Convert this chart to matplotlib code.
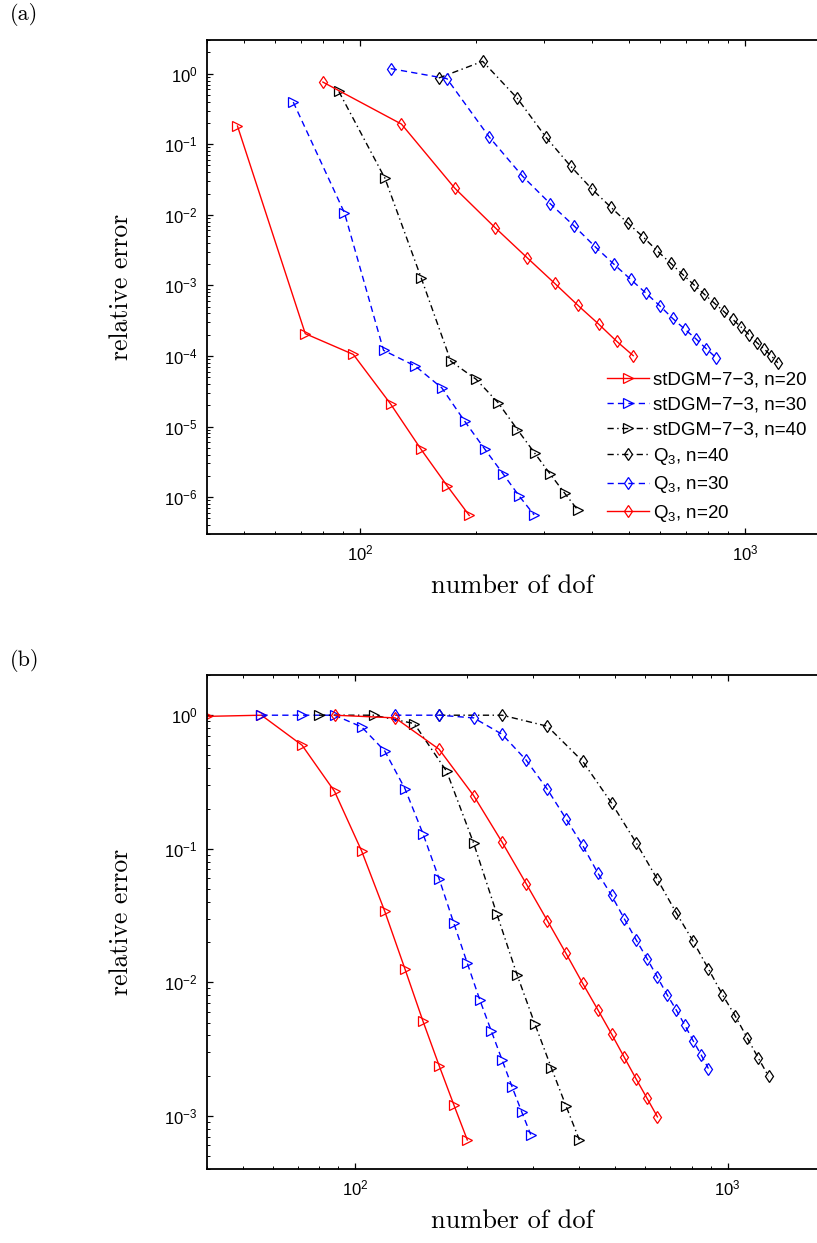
import matplotlib
matplotlib.use("Agg")
import matplotlib.pyplot as plt
from matplotlib.ticker import LogLocator, NullFormatter

plt.rcParams['font.family'] = ['Liberation Sans', 'DejaVu Sans']
plt.rcParams['mathtext.fontset'] = 'custom'
plt.rcParams['mathtext.rm'] = 'Liberation Sans'
plt.rcParams['mathtext.it'] = 'Liberation Sans:italic'
plt.rcParams['mathtext.bf'] = 'Liberation Sans:bold'

# ---------------- panel (a) data ----------------
a_tri20_x = [48, 72, 96, 120, 144, 168, 192]
a_tri20_y = [0.181, 2.07e-4, 1.05e-4, 2.08e-5, 4.73e-6, 1.46e-6, 5.5e-7]
a_tri30_x = [67, 91, 115, 139, 163, 187, 211, 235, 259, 283]
a_tri30_y = [0.396, 0.0107, 1.2e-4, 7.2e-5, 3.52e-5, 1.18e-5, 4.73e-6, 2.14e-6, 1.03e-6, 5.6e-7]
a_tri40_x = [88, 116, 144, 172, 200, 228, 256, 284, 312, 340, 368]
a_tri40_y = [0.56, 0.0328, 1.28e-3, 8.4e-5, 4.68e-5, 2.19e-5, 9.07e-6, 4.2e-6, 2.1e-6, 1.13e-6, 6.5e-7]
a_q20_x = [80, 128, 176, 224, 272, 320, 368, 416, 464, 512]
a_q20_y = [0.76, 0.193, 0.0239, 0.0066, 0.00244, 0.00107, 5.2e-4, 2.84e-4, 1.61e-4, 1.01e-4]
a_q30_x = [120, 168, 216, 264, 312, 360, 408, 456, 504, 552, 600, 648, 696, 744, 792, 840]
a_q30_y = [1.18, 0.85, 0.128, 0.0353, 0.0143, 0.0069, 0.00352, 0.002, 0.00122, 7.8e-4,
           5.15e-4, 3.41e-4, 2.41e-4, 1.76e-4, 1.27e-4, 9.46e-5]
a_q40_x = [160, 208, 256, 304, 352, 400, 448, 496, 544, 592, 640, 688, 736, 784, 832,
           880, 928, 976, 1024, 1072, 1120, 1168, 1216]
a_q40_y = [0.868, 1.496, 0.447, 0.125, 0.049, 0.0231, 0.0128, 0.0076, 0.00483, 0.00306,
           0.00207, 0.00143, 0.00102, 7.46e-4, 5.6e-4, 4.28e-4, 3.3e-4, 2.57e-4, 2.0e-4,
           1.55e-4, 1.26e-4, 1.01e-4, 8.0e-5]

# ---------------- panel (b) data ----------------
b_tri20_x = [40, 56, 72, 88, 104, 120, 136, 152, 168, 184, 200]
b_tri20_y = [0.98, 1.0, 0.596, 0.269, 0.0966, 0.0341, 0.0126, 5.13e-3, 2.38e-3, 1.21e-3, 6.6e-4]
b_tri30_x = [56, 72, 88, 104, 120, 136, 152, 168, 184, 200, 216, 232, 248, 264, 280, 296]
b_tri30_y = [1.0, 1.0, 1.0, 0.818, 0.54, 0.282, 0.13, 0.0596, 0.0277, 0.0139, 7.4e-3,
             4.32e-3, 2.62e-3, 1.64e-3, 1.07e-3, 7.24e-4]
b_tri40_x = [80, 112, 144, 176, 208, 240, 272, 304, 336, 368, 400]
b_tri40_y = [1.0, 1.0, 0.866, 0.38, 0.11, 0.0326, 0.0114, 4.84e-3, 2.3e-3, 1.19e-3, 6.6e-4]
b_q20_x = [88, 128, 168, 208, 248, 288, 328, 368, 408, 448, 488, 528, 568, 608, 648]
b_q20_y = [1.0, 0.955, 0.556, 0.25, 0.112, 0.0546, 0.029, 0.0165, 9.83e-3, 6.25e-3,
           4.1e-3, 2.74e-3, 1.89e-3, 1.35e-3, 9.83e-4]
b_q30_x = [128, 168, 208, 248, 288, 328, 368, 408, 448, 488, 528, 568, 608, 648, 688,
           728, 768, 808, 848, 888]
b_q30_y = [1.0, 1.0, 0.955, 0.72, 0.46, 0.279, 0.168, 0.106, 0.066, 0.0447, 0.0299,
           0.0208, 0.015, 0.0109, 8.07e-3, 6.2e-3, 4.76e-3, 3.65e-3, 2.88e-3, 2.26e-3]
b_q40_x = [168, 248, 328, 408, 488, 568, 648, 728, 808, 888, 968, 1048, 1128, 1208, 1288]
b_q40_y = [1.0, 1.0, 0.827, 0.452, 0.22, 0.111, 0.0589, 0.0331, 0.0203, 0.0126, 8.1e-3,
           5.6e-3, 3.85e-3, 2.72e-3, 1.98e-3]

labels = ['stDGM\u22127\u22123, n=20', 'stDGM\u22127\u22123, n=30', 'stDGM\u22127\u22123, n=40',
          'Q$_{3}$, n=40', 'Q$_{3}$, n=30', 'Q$_{3}$, n=20']

W, H = 817, 1243
fig = plt.figure(figsize=(W / 100, H / 100), dpi=100)


def make_axes(top_px, bot_px):
    return fig.add_axes([207 / W, 1 - bot_px / H, (W - 207) / W, (bot_px - top_px) / H])


def style(ax, xlim, ylim):
    ax.set_xscale('log')
    ax.set_yscale('log')
    ax.set_xlim(*xlim)
    ax.set_ylim(*ylim)
    ax.spines['right'].set_visible(False)
    for s in ['left', 'top', 'bottom']:
        ax.spines[s].set_linewidth(1.3)
    ax.xaxis.set_major_locator(LogLocator(base=10, numticks=10))
    ax.yaxis.set_major_locator(LogLocator(base=10, numticks=20))
    ax.xaxis.set_minor_locator(LogLocator(base=10, subs=range(2, 10), numticks=20))
    ax.yaxis.set_minor_locator(LogLocator(base=10, subs=range(2, 10), numticks=20))
    ax.xaxis.set_minor_formatter(NullFormatter())
    ax.yaxis.set_minor_formatter(NullFormatter())
    ax.tick_params(which='both', direction='in', top=True, right=False)
    ax.tick_params(which='major', length=4.5, width=0.9, labelsize=12, pad=7)
    ax.tick_params(which='minor', length=2.4, width=0.7)
    ax.set_xlabel('number of dof', family='cmr10', fontsize=19, labelpad=8)
    ax.set_ylabel('relative error', family='cmr10', fontsize=18.5, labelpad=22)


DASH = (4.5, 3.0)
DASHDOT = (4.5, 2.5, 1.0, 2.5)


def draw(ax, data):
    handles = []
    specs = [('r', '-', '>'), ('b', DASH, '>'), ('k', DASHDOT, '>'),
             ('k', DASHDOT, 'd'), ('b', DASH, 'd'), ('r', '-', 'd')]
    for (x, y), (c, ls, m), lab in zip(data, specs, labels):
        h, = ax.plot(x, y, color=c, marker=m, markersize=6.5,
                     markerfacecolor='none', markeredgecolor=c, markeredgewidth=0.9,
                     linewidth=1.0, label=lab)
        if ls != '-':
            h.set_dashes(ls)
        handles.append(h)
    return handles


ax1 = make_axes(40, 534)
h = draw(ax1, [(a_tri20_x, a_tri20_y), (a_tri30_x, a_tri30_y), (a_tri40_x, a_tri40_y),
               (a_q40_x, a_q40_y), (a_q30_x, a_q30_y), (a_q20_x, a_q20_y)])
style(ax1, (40, 1537), (3e-7, 3))
ax1.legend(handles=h, loc='lower right', bbox_to_anchor=(1.0, 0.0), frameon=False,
           fontsize=13.5, handlelength=2.25, handletextpad=0.2, labelspacing=0.4,
           borderaxespad=0.15, numpoints=1)

ax2 = make_axes(675, 1169)
draw(ax2, [(b_tri20_x, b_tri20_y), (b_tri30_x, b_tri30_y), (b_tri40_x, b_tri40_y),
           (b_q40_x, b_q40_y), (b_q30_x, b_q30_y), (b_q20_x, b_q20_y)])
style(ax2, (40, 1738), (4e-4, 2))

fig.text(10 / W, 1 - 15 / H, '(a)', family='cmr10', fontsize=16, va='center', ha='left')
fig.text(10 / W, 1 - 660 / H, '(b)', family='cmr10', fontsize=16, va='center', ha='left')

fig.savefig('out.png', dpi=100)
